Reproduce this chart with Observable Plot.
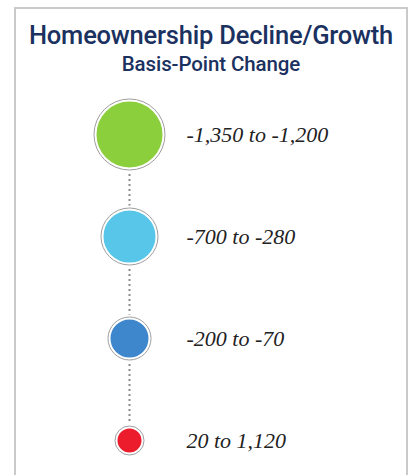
<!DOCTYPE html>
<html>
<head>
<meta charset="utf-8">
<script src="https://cdn.jsdelivr.net/npm/d3@7"></script>
<script src="https://cdn.jsdelivr.net/npm/@observablehq/plot@0.6"></script>
<style>
  html, body { margin: 0; padding: 0; background: #fff; }
  #frame {
    position: absolute; left: 14px; top: 7px; width: 394px; height: 480px;
    box-sizing: border-box; border: 2px solid #cacaca; border-bottom: none;
  }
  #title {
    position: absolute; left: 0; right: 0; top: 11px; text-align: center;
    font-family: Roboto, "Noto Sans", sans-serif; font-weight: 500;
    font-size: 25.5px; line-height: 30px; color: #1b3160; letter-spacing: -0.2px;
  }
  #subtitle {
    position: absolute; left: 0; right: 0; top: 43px; text-align: center;
    font-family: Roboto, "Noto Sans", sans-serif; font-weight: 500;
    font-size: 20.5px; line-height: 24px; color: #1b3160; letter-spacing: -0.1px;
  }
  #chart { position: absolute; left: 0; top: 81px; }
</style>
</head>
<body>
<div id="frame">
  <div id="title">Homeownership Decline/Growth</div>
  <div id="subtitle">Basis-Point Change</div>
  <div id="chart"></div>
</div>
<script>
const ranges = ["-1,350 to -1,200", "-700 to -280", "-200 to -70", "20 to 1,120"];
const lowBounds = [-1350, -700, -200, 20];
const highBounds = [-1200, -280, -70, 1120];
const sizeRank = [4, 3, 2, 1];
const colors = ["#8ccf3c", "#58c6e8", "#3e87cd", "#ec1c2c"];

const rows = ranges.map((label, i) => ({
  label, low: lowBounds[i], high: highBounds[i], rank: sizeRank[i], color: colors[i], key: "change"
}));

const plot = Plot.plot({
  width: 390,
  height: 387,
  marginLeft: 0,
  marginRight: 164,
  marginTop: 43,
  marginBottom: 37,
  style: { background: "transparent", fontFamily: "Liberation Serif, serif" },
  x: { type: "point", domain: ["change"], axis: null },
  y: { type: "point", domain: ranges, padding: 0, axis: null },
  r: { type: "linear", domain: [1, 4], range: [14.5, 35.5] },
  color: { type: "identity" },
  marks: [
    Plot.ruleX([{ key: "change", y1: ranges[0], y2: ranges[ranges.length - 1] }], {
      x: "key", y1: "y1", y2: "y2",
      stroke: "#8a8a8a", strokeWidth: 2, strokeDasharray: "2 3"
    }),
    Plot.dot(rows, {
      x: "key", y: "label", r: "rank",
      fill: "color", stroke: "white", strokeWidth: 5
    }),
    Plot.dot(rows, {
      x: "key", y: "label", r: "rank",
      fill: "none", stroke: "#9e9e9e", strokeWidth: 1
    }),
    Plot.text(rows, {
      x: "key", y: "label", text: "label",
      dx: 57, textAnchor: "start",
      fontSize: 22, fontStyle: "italic", fill: "#222"
    })
  ]
});
document.getElementById("chart").appendChild(plot);
</script>
</body>
</html>
